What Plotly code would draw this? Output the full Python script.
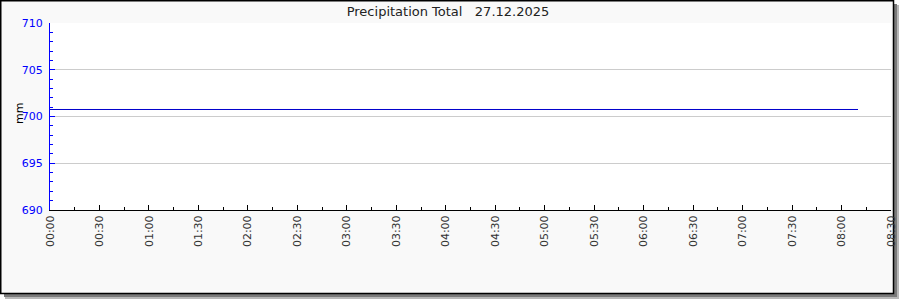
import plotly.graph_objects as go

# ---- data ----
times = ["2025-12-27 00:00", "2025-12-27 08:10"]
precip_total = [700.75, 700.75]
y_ticks = [690, 695, 700, 705, 710]
title_text = "Precipitation Total   27.12.2025"
y_label = "mm"

W, H = 900, 300
L, R, T, B = 50, 9, 23, 90
PW, PH = W - L - R, H - T - B

def px(x):
    return (x - L) / PW

def py(y):
    return (H - B - y) / PH

shapes = [
    # shadow
    dict(type="rect", xref="paper", yref="paper", x0=px(5), x1=px(899), y0=py(5), y1=py(299),
         fillcolor="#b8b8b8", line_width=0, layer="below"),
    dict(type="rect", xref="paper", yref="paper", x0=px(4), x1=px(897), y0=py(4), y1=py(297),
         fillcolor="#7a7a7a", line_width=0, layer="below"),
    # frame
    dict(type="rect", xref="paper", yref="paper", x0=px(0.75), x1=px(893.5), y0=py(0.75), y1=py(293.5),
         fillcolor="#f9f9f9", line=dict(color="black", width=1.5), layer="below"),
    # plot area white
    dict(type="rect", xref="paper", yref="paper", x0=0, x1=1, y0=0, y1=1,
         fillcolor="white", line_width=0, layer="below"),
]

fig = go.Figure()
fig.add_trace(go.Scatter(x=times, y=precip_total, mode="lines",
                         line=dict(color="#0000cc", width=1), showlegend=False,
                         hoverinfo="skip"))

fig.update_layout(
    width=W, height=H,
    margin=dict(l=L, r=R, t=T, b=B, pad=0, autoexpand=False),
    paper_bgcolor="white",
    plot_bgcolor="white",
    font=dict(family="DejaVu Sans", size=11, color="#333"),
    title=dict(text=title_text, x=px(448), xref="paper", xanchor="center",
               y=1 - 11.5 / H, yref="container", yanchor="middle",
               font=dict(size=13, color="#222"), automargin=False),
    shapes=shapes,
    annotations=[dict(text=y_label, xref="paper", yref="paper", x=px(20), y=py(114),
                      showarrow=False, textangle=-90, font=dict(size=11, color="black"),
                      xanchor="center", yanchor="middle")],
)

fig.update_xaxes(
    type="date",
    range=["2025-12-27 00:00", "2025-12-27 08:30"],
    dtick=30 * 60 * 1000,
    tick0="2025-12-27 00:00",
    tickformat="%H:%M",
    tickangle=-90,
    ticks="inside", ticklen=5, tickcolor="black", tickwidth=1,
    minor=dict(dtick=15 * 60 * 1000, ticks="inside", ticklen=3, tickcolor="black", showgrid=False),
    showline=True, linecolor="black", linewidth=1,
    showgrid=False, zeroline=False,
    tickfont=dict(size=11, color="#333"),
    automargin=False,
    fixedrange=True,
)

fig.update_yaxes(
    range=[690, 710],
    tickvals=y_ticks,
    ticks="inside", ticklen=5, tickcolor="blue", tickwidth=1,
    minor=dict(dtick=1, ticks="inside", ticklen=3, tickcolor="blue", showgrid=False),
    showline=True, linecolor="blue", linewidth=1,
    showgrid=True, gridcolor="#cccccc", gridwidth=1,
    zeroline=False,
    tickfont=dict(size=11, color="blue"),
    ticklabelstandoff=4,
    automargin=False,
    fixedrange=True,
)

fig.write_html("out.html")
